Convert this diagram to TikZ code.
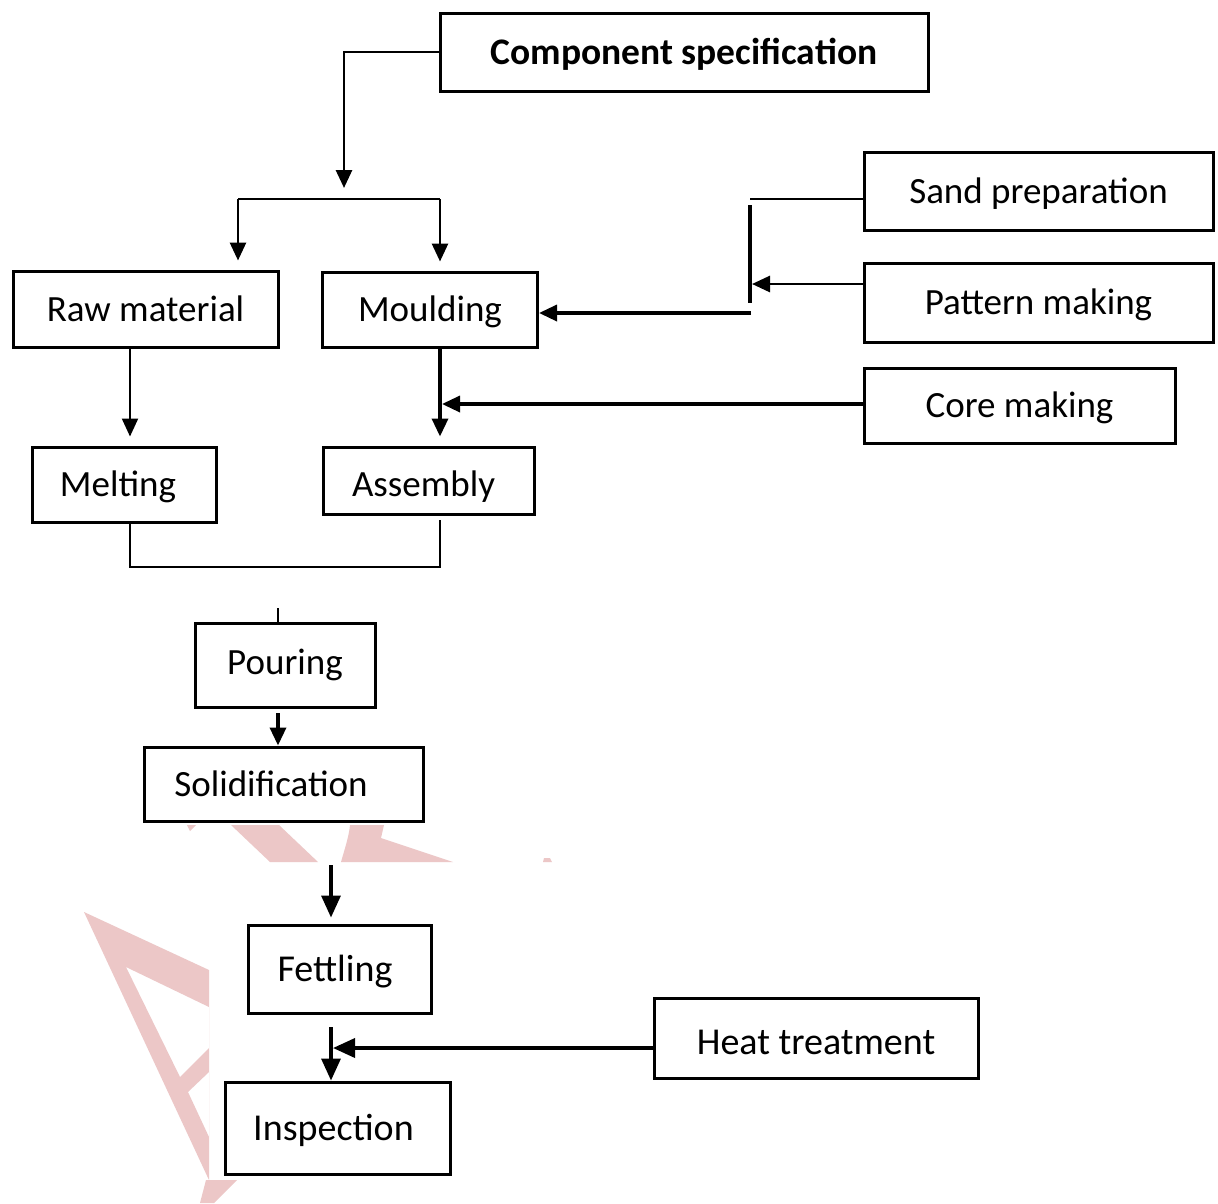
\documentclass[tikz,border=0pt]{standalone}
\usepackage{fontspec}
\setmainfont{Carlito}
\usetikzlibrary{arrows.meta}
\definecolor{wm}{RGB}{236,199,199}
\begin{document}
\begin{tikzpicture}[x=1pt,y=-1pt,
  stepbox/.style={draw, line width=3pt, fill=white, inner sep=0pt,
    font=\fontsize{37}{40}\selectfont, text height=32pt, text depth=8pt},
  lowbox/.style={stepbox, font=\fontsize{38}{42}\selectfont},
  ln/.style={line width=2.8pt},
  thk/.style={line width=3.4pt},
  thinln/.style={line width=1.8pt},
  arr/.style={-{Triangle[length=18pt,width=16pt]}},
  bigarr/.style={-{Triangle[length=22pt,width=19pt]}},
]
\useasboundingbox (0,0) rectangle (1218,1203);
\fill[white] (0,0) rectangle (1218,1203);

% watermark remnants
\fill[wm] (187,825) -- (196,825) -- (190,831) -- cycle;
\fill[wm] (231,825) -- (279,825) -- (318,862) -- (270,862) -- cycle;
\fill[wm] (350,825) -- (384,825) .. controls (383,831) .. (381,838) -- (453,862) -- (341,862) .. controls (345,848) and (349,836) .. (350,825) -- cycle;
\fill[wm] (544,858) -- (550,858) -- (552,862) -- (543,862) -- cycle;
\fill[wm, even odd rule] (84,912) -- (209,970) -- (209,1180) -- cycle
  (126,967) -- (209,1007) -- (209,1048) -- (180,1077) -- cycle
  (188,1092) -- (209,1072) -- (209,1137) -- cycle;
\fill[wm] (206,1180) -- (237,1180) -- (214,1203) -- (200,1203) -- cycle;

% nodes
\node[stepbox, font=\fontsize{37.5}{40}\selectfont\bfseries, minimum width=488pt, minimum height=78pt] (spec) at (684,52) {Component specification};
\node[stepbox, minimum width=349pt, minimum height=78pt] (sand) at (1038.5,191) {Sand preparation};
\node[stepbox, minimum width=349pt, minimum height=79pt] (patt) at (1038.5,302.5) {Pattern making};
\node[stepbox, minimum width=311pt, minimum height=75pt] (core) at (1019.5,405.5) {Core making};
\node[stepbox, minimum width=265pt, minimum height=76pt] (raw) at (145.5,309) {Raw material};
\node[stepbox, minimum width=215pt, minimum height=75pt] (mould) at (430,309.5) {Moulding};
\node[stepbox, minimum width=184pt, minimum height=75pt] (melt) at (124,484.5) {\hspace*{-12pt}Melting};
\node[stepbox, text height=40pt, minimum width=211pt, minimum height=67pt] (assem) at (428.5,480.5) {\hspace*{-10pt}Assembly};
\node[stepbox, text depth=14pt, minimum width=180pt, minimum height=84pt] (pour) at (285,665) {Pouring};
\node[stepbox, minimum width=279pt, minimum height=74pt] (solid) at (283.5,784) {\hspace*{-25pt}Solidification};
\node[lowbox, minimum width=183pt, minimum height=88pt] (fett) at (339.5,969) {\hspace*{-9pt}Fettling};
\node[lowbox, text height=40pt, minimum width=324pt, minimum height=80pt] (heat) at (816,1038) {Heat treatment};
\node[lowbox, minimum width=225pt, minimum height=92pt] (insp) at (337.5,1128) {\hspace*{-8pt}Inspection};

% junction coordinates
\coordinate (cs) at (344,188);
\coordinate (sl) at (238,199);
\coordinate (sr) at (440,199);
\coordinate (sj) at (750,199);
\coordinate (vt) at (750,205);
\coordinate (vb) at (750,303);
\coordinate (pj) at (752,284);
\coordinate (mj) at (751,313);
\coordinate (rmx) at (130,400);
\coordinate (max) at (440,400);
\coordinate (cj) at (442,404);
\coordinate (jl) at (130,567);
\coordinate (jr) at (440,567);
\coordinate (pt) at (278,608);
\coordinate (ps) at (278,713);
\coordinate (sf) at (331,865);
\coordinate (fi) at (331,1027);
\coordinate (hj) at (333,1048);

% connectors
\draw[ln,arr] (spec.west) -| (cs);
\draw[thinln] (sl) -- (sr);
\draw[ln,arr,shorten >=9pt] (sl) -- (sl |- raw.north);
\draw[ln,arr,shorten >=9pt] (sr) -- (sr |- mould.north);
\draw[thinln] (sand.west |- sj) -- (sj);
\draw[thk] (vt) -- (vb);
\draw[ln,arr] (patt.west |- pj) -- (pj);
\draw[thk,arr] (mj) -- (mj -| mould.east);
\draw[line width=2.2pt,arr,shorten >=9pt] (raw.south -| rmx) -- (melt.north -| rmx);
\draw[thk,arr,shorten >=9pt] (mould.south -| max) -- (assem.north -| max);
\draw[thk,arr] (core.west |- cj) -- (cj);
\draw[ln,shorten >=4pt] (melt.south -| jl) -- (jl) -- (jr) -- (jr |- assem.south);
\draw[ln] (pt) -- (pt |- pour.north);
\draw[thk,arr] (ps) -- (ps |- solid.north);
\draw[thk,bigarr,shorten >=6pt] (sf) -- (sf |- fett.north);
\draw[thk,bigarr] (fi) -- (fi |- insp.north);
\draw[line width=3.6pt,bigarr] (heat.west |- hj) -- (hj);
\end{tikzpicture}
\end{document}
